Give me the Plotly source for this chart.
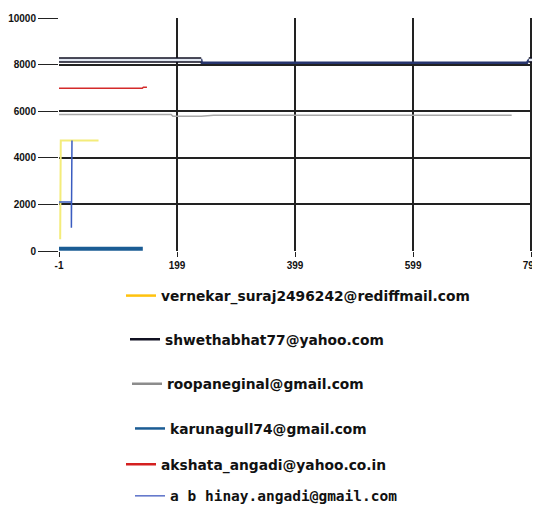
import plotly.graph_objects as go

# ---- data ----
names = [
    "vernekar_suraj2496242@rediffmail.com",
    "shwethabhat77@yahoo.com",
    "roopaneginal@gmail.com",
    "karunagull74@gmail.com",
    "akshata_angadi@yahoo.co.in",
    "abhinay.angadi@gmail.com",
]
vernekar_x = [1, 2, 66]
vernekar_y = [500, 4740, 4740]
shwetha_x = [-1, 240, 241, 792, 795, 818]
shwetha_y = [8200, 8200, 8080, 8080, 8200, 8200]
roopa_x = [-1, 189, 192, 240, 261, 766]
roopa_y = [5860, 5860, 5780, 5780, 5830, 5830]
karuna_x = [-1, 141]
karuna_y = [100, 100]
akshata_x = [-1, 140, 142, 148]
akshata_y = [6980, 6980, 7030, 7030]
abhinay_x = [-1, 20, 20, 21]
abhinay_y = [2100, 2100, 1000, 4740]

x_ticks = [-1, 199, 399, 599, 799]
y_ticks = [0, 2000, 4000, 6000, 8000, 10000]

OFF = 8  # page body margin
W, H = 540 - OFF, 512 - OFF

fig = go.Figure()

# shwetha: outlined segments at the start and end, navy in the middle
out_x = shwetha_x[0:2] + [None] + shwetha_x[4:6]
out_y = shwetha_y[0:2] + [None] + shwetha_y[4:6]
fig.add_trace(go.Scatter(x=shwetha_x, y=shwetha_y, mode="lines",
                         line=dict(color="#27356e", width=2.5), showlegend=False))
fig.add_trace(go.Scatter(x=out_x, y=out_y, mode="lines", connectgaps=False,
                         line=dict(color="#111122", width=5.5), showlegend=False))
fig.add_trace(go.Scatter(x=out_x, y=out_y, mode="lines", connectgaps=False,
                         line=dict(color="#e2e8f2", width=2.5), showlegend=False))
fig.add_trace(go.Scatter(x=roopa_x, y=roopa_y, mode="lines",
                         line=dict(color="#a8a8a8", width=1.5), showlegend=False))
fig.add_trace(go.Scatter(x=akshata_x, y=akshata_y, mode="lines",
                         line=dict(color="#d42a2a", width=1.5), showlegend=False))
fig.add_trace(go.Scatter(x=vernekar_x, y=vernekar_y, mode="lines",
                         line=dict(color="#f4ec7a", width=2), showlegend=False))
fig.add_trace(go.Scatter(x=abhinay_x, y=abhinay_y, mode="lines",
                         line=dict(color="#3a5cc0", width=1.5), showlegend=False))
fig.add_trace(go.Scatter(x=karuna_x, y=karuna_y, mode="lines",
                         line=dict(color="#1b5c94", width=4), showlegend=False))

# plot area in screen pixels
plot_left, plot_right, plot_top, plot_bottom = 59, 540, 18, 253
plot_w, plot_h = plot_right - plot_left, plot_bottom - plot_top

# legend entries, one legend box per entry
leg_colors = ["#ffc20e", "#111122", "#8c8c8c", "#1b5c94", "#d42020", "#5a70c8"]
leg_widths = [2.5, 2.5, 2.5, 2.5, 2.5, 1.5]
leg_y_px = [298, 342, 387, 432, 468, 500]
leg_x_px = [121, 125, 127, 130, 121, 130]
legend_layouts = {}
for i, (n, c) in enumerate(zip(names, leg_colors)):
    key = "legend" if i == 0 else f"legend{i+1}"
    label = n
    font = dict(family="DejaVu Sans", size=13.8, color="#111", weight="bold")
    if i == 5:
        label = "a b hinay.angadi@gmail.com"
        font = dict(family="DejaVu Sans Mono", size=14.5, color="#111", weight="bold")
    fig.add_trace(go.Scatter(x=[None], y=[None], mode="lines", name=label,
                             line=dict(color=c, width=leg_widths[i]), legend=key))
    legend_layouts[key] = dict(
        x=(leg_x_px[i] - plot_left) / plot_w,
        y=(plot_bottom - leg_y_px[i]) / plot_h,
        xanchor="left", yanchor="middle",
        bgcolor="rgba(0,0,0,0)", borderwidth=0,
        font=font,
    )

tick_font = dict(family="Liberation Sans Narrow, Liberation Sans", size=10,
                 color="#111", weight="bold")
fig.update_layout(
    width=W, height=H,
    margin=dict(l=plot_left - OFF, r=W - (plot_right - OFF), t=plot_top - OFF,
                b=H - (plot_bottom - OFF)),
    plot_bgcolor="white", paper_bgcolor="white",
    showlegend=True,
    xaxis=dict(range=[-1, 814], tickvals=x_ticks, ticktext=[str(v) for v in x_ticks],
               showgrid=True, gridcolor="#222", gridwidth=1.5, zeroline=False,
               showline=False, ticks="outside", ticklen=5, tickcolor="#222",
               automargin=False, tickfont=tick_font),
    yaxis=dict(range=[0, 10000], tickvals=y_ticks, ticktext=[str(v) for v in y_ticks],
               showgrid=True, gridcolor="#222", gridwidth=1.5, zeroline=False,
               showline=False, ticks="outside", ticklen=20, tickcolor="#222",
               automargin=False, tickfont=tick_font),
    **legend_layouts,
)

fig.write_html("out.html")
